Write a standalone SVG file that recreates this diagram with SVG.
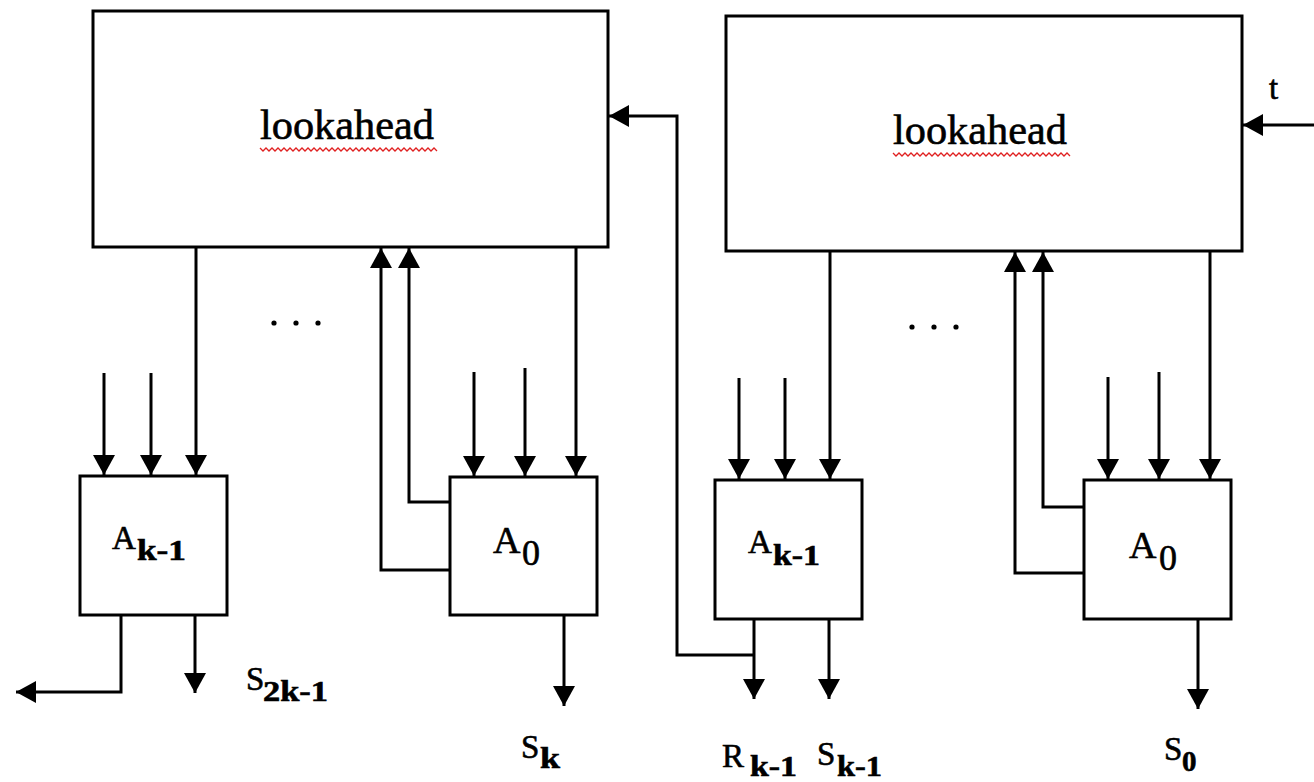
<svg xmlns="http://www.w3.org/2000/svg" width="1314" height="782" viewBox="0 0 1314 782">
<style>
.box{fill:#fff;stroke:#000;stroke-width:3}
.ln{fill:none;stroke:#000;stroke-width:3;marker-end:url(#ah)}
text{font-family:"Liberation Serif","Times New Roman",serif;fill:#000;stroke:#000;stroke-width:0.6}
.big{font-size:42px}
.m{font-size:33px}
.s{font-size:29px;font-weight:bold}
.sq{fill:none;stroke:#e02020;stroke-width:1.3}
</style>
<defs>
<marker id="ah" markerUnits="userSpaceOnUse" markerWidth="22" markerHeight="22" refX="20" refY="11" orient="auto" viewBox="0 0 22 22">
<path d="M0,0 L20,11 L0,22 z" fill="#000"/>
</marker>
</defs>
<rect width="1314" height="782" fill="#fff"/>

<g id="lookahead-left">
<rect class="box" x="93" y="11" width="515" height="236"/>
<text class="big" x="260" y="139" textLength="174" lengthAdjust="spacingAndGlyphs">lookahead</text>
<polyline class="sq" points="260,148 263,151 266,148 269,151 272,148 275,151 278,148 281,151 284,148 287,151 290,148 293,151 296,148 299,151 302,148 305,151 308,148 311,151 314,148 317,151 320,148 323,151 326,148 329,151 332,148 335,151 338,148 341,151 344,148 347,151 350,148 353,151 356,148 359,151 362,148 365,151 368,148 371,151 374,148 377,151 380,148 383,151 386,148 389,151 392,148 395,151 398,148 401,151 404,148 407,151 410,148 413,151 416,148 419,151 422,148 425,151 428,148 431,151 434,148 437,151"/>
</g>

<g id="lookahead-right">
<rect class="box" x="726" y="16" width="516" height="235"/>
<text class="big" x="893" y="144" textLength="174" lengthAdjust="spacingAndGlyphs">lookahead</text>
<polyline class="sq" points="893,153 896,156 899,153 902,156 905,153 908,156 911,153 914,156 917,153 920,156 923,153 926,156 929,153 932,156 935,153 938,156 941,153 944,156 947,153 950,156 953,153 956,156 959,153 962,156 965,153 968,156 971,153 974,156 977,153 980,156 983,153 986,156 989,153 992,156 995,153 998,156 1001,153 1004,156 1007,153 1010,156 1013,153 1016,156 1019,153 1022,156 1025,153 1028,156 1031,153 1034,156 1037,153 1040,156 1043,153 1046,156 1049,153 1052,156 1055,153 1058,156 1061,153 1064,156 1067,153 1070,156"/>
</g>

<g id="A-k-1-left">
<rect class="box" x="80" y="476" width="147" height="139"/>
<text class="m" x="112" y="549">A</text>
<text class="s" x="137" y="560" textLength="49" lengthAdjust="spacingAndGlyphs">k-1</text>
</g>

<g id="A0-left">
<rect class="box" x="450" y="477" width="147" height="138"/>
<text x="493" y="553" font-size="38">A</text>
<text x="522" y="565" font-size="36">0</text>
</g>

<g id="A-k-1-right">
<rect class="box" x="715" y="480" width="147" height="139"/>
<text class="m" x="748" y="553">A</text>
<text class="s" x="773" y="565" textLength="47" lengthAdjust="spacingAndGlyphs">k-1</text>
</g>

<g id="A0-right">
<rect class="box" x="1084" y="480" width="147" height="139"/>
<text x="1129" y="558" font-size="38">A</text>
<text x="1159" y="570" font-size="36">0</text>
</g>

<g id="connectors">
<path class="ln" d="M196,247 V475"/>
<path class="ln" d="M104,373 V475"/>
<path class="ln" d="M151,373 V475"/>
<path class="ln" d="M474,372 V476"/>
<path class="ln" d="M525,368 V476"/>
<path class="ln" d="M576,247 V476"/>
<path class="ln" d="M450,570 H381 V248"/>
<path class="ln" d="M450,502 H409 V248"/>
<path class="ln" d="M121,615 V692 H16"/>
<path class="ln" d="M195,615 V693"/>
<path class="ln" d="M564,615 V706"/>
<path class="ln" d="M739,378 V479"/>
<path class="ln" d="M785,378 V479"/>
<path class="ln" d="M830,251 V479"/>
<path class="ln" d="M1108,377 V479"/>
<path class="ln" d="M1159,372 V479"/>
<path class="ln" d="M1210,251 V479"/>
<path class="ln" d="M1084,573 H1015 V252"/>
<path class="ln" d="M1084,507 H1043 V252"/>
<path class="ln" d="M754,619 V699"/>
<path class="ln" d="M829,619 V699"/>
<path class="ln" d="M754,655 H677 V116 H609"/>
<path class="ln" d="M1198,619 V709"/>
<path class="ln" d="M1314,125 H1243"/>
</g>

<g id="dots">
<circle cx="274" cy="323" r="2.6"/>
<circle cx="296" cy="323" r="2.6"/>
<circle cx="318" cy="323" r="2.6"/>
<circle cx="912" cy="327" r="2.6"/>
<circle cx="934" cy="327" r="2.6"/>
<circle cx="956" cy="327" r="2.6"/>
</g>

<g id="labels">
<text class="m" x="1269" y="99">t</text>
<text class="m" x="246" y="690">S</text>
<text class="s" x="263" y="701" textLength="65" lengthAdjust="spacingAndGlyphs">2k-1</text>
<text class="m" x="521" y="758">S</text>
<text class="s" x="540" y="768" textLength="20" lengthAdjust="spacingAndGlyphs">k</text>
<text class="m" x="722" y="767">R</text>
<text class="s" x="750" y="776" textLength="47" lengthAdjust="spacingAndGlyphs">k-1</text>
<text class="m" x="817" y="765">S</text>
<text class="s" x="837" y="776" textLength="45" lengthAdjust="spacingAndGlyphs">k-1</text>
<text class="m" x="1164" y="760">S</text>
<text class="s" x="1182" y="771">0</text>
</g>
</svg>
